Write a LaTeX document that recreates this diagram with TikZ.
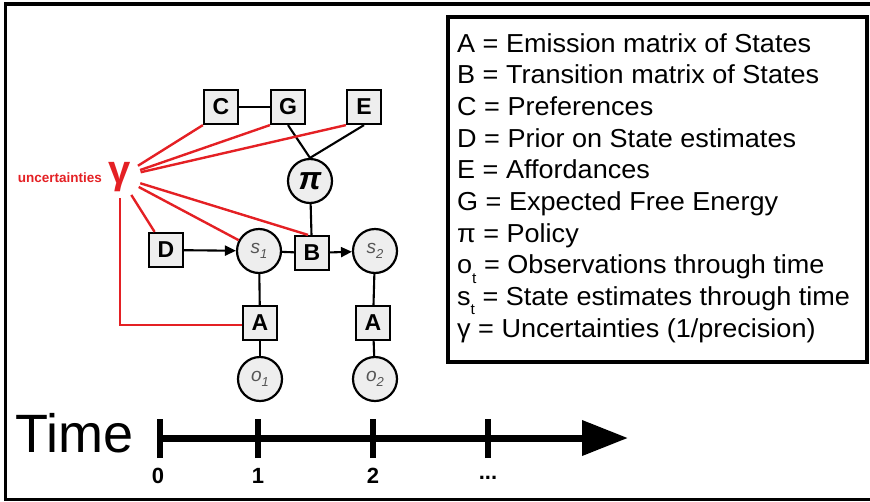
\documentclass[tikz,border=0pt]{standalone}
\usepackage{fontspec}
\setmainfont{Liberation Sans}
\newfontfamily\legendfont[FakeStretch=1.04]{Liberation Sans}
\usetikzlibrary{arrows.meta}

\definecolor{gred}{RGB}{228,32,36}
\definecolor{nodefill}{RGB}{238,238,238}
\definecolor{subgray}{RGB}{85,85,85}

\tikzset{
  mat/.style={draw, fill=nodefill, line width=2.2pt, minimum size=34pt, inner sep=0pt,
              font=\fontsize{23}{23}\selectfont\bfseries},
  var/.style={draw, circle, fill=nodefill, line width=2.2pt, minimum size=44pt, inner sep=0pt},
  link/.style={line width=2.1pt},
  flow/.style={line width=2.1pt, -{Triangle[length=11pt,width=10pt]}},
  prec/.style={gred, line width=2.4pt},
  legend/.style={anchor=base west, inner sep=0pt, font=\legendfont\fontsize{26}{26}\selectfont},
  axis/.style={line width=7pt, -{Triangle[length=46pt,width=34pt]}},
  tickmark/.style={line width=6.5pt},
  ticklabel/.style={font=\fontsize{22}{22}\selectfont\bfseries},
  frame/.style={line width=3.5pt},
}
% italic grey variable with a numeric index
\newcommand{\statevar}[2]{\textcolor{subgray}{\fontsize{19}{19}\selectfont\itshape #1\raisebox{-0.5ex}{\fontsize{13}{13}\selectfont #2}}}
% low subscript used in the legend
\newcommand{\lsub}[1]{\raisebox{-0.36em}{\fontsize{15}{15}\selectfont #1}}

\begin{document}
\begin{tikzpicture}[x=1pt, y=-1pt]
\useasboundingbox (0,0) rectangle (870,501);

% outer frame (open on the right)
\draw[frame] (870,4) -- (5.5,4) -- (5.5,499.5) -- (870,499.5);

% legend
\draw[line width=3.5pt] (448,17) rectangle (867,362);
\node[legend] (l1)  at (457,52.0)  {A = Emission matrix of States};
\node[legend] (l2)  at (457,83.7)  {B = Transition matrix of States};
\node[legend] (l3)  at (457,115.3) {C = Preferences};
\node[legend] (l4)  at (457,147.0) {D = Prior on State estimates};
\node[legend] (l5)  at (457,178.7) {E = Affordances};
\node[legend] (l6)  at (457,210.3) {G = Expected Free Energy};
\node[legend] (l7)  at (457,242.0) {π = Policy};
\node[legend] (l8)  at (457,273.7) {o\lsub{t} = Observations through time};
\node[legend] (l9)  at (457,305.3) {s\lsub{t} = State estimates through time};
\node[legend] (l10) at (457,337.0) {γ = Uncertainties (1/precision)};

% model nodes
\node[mat] (C)  at (221,107) {C};
\node[mat] (G)  at (288,107) {G};
\node[mat] (E)  at (364,107) {E};
\node[var] (pi) at (310,181) {\fontsize{32}{32}\selectfont\bfseries\itshape π};
\node[mat] (D)  at (166,250) {D};
\node[var] (s1) at (259,251) {\statevar{s}{1}};
\node[mat] (B)  at (312,253) {B};
\node[var] (s2) at (375,251) {\statevar{s}{2}};
\node[mat] (A1) at (260,323) {A};
\node[mat] (A2) at (373,323) {A};
\node[var] (o1) at (260,379) {\statevar{o}{1}};
\node[var] (o2) at (375,379) {\statevar{o}{2}};

% precision
\node[circle, minimum size=42pt, inner sep=0pt, text=gred,
      font=\fontsize{40}{40}\selectfont\bfseries] (gamma) at (120,177) {γ};
\node[anchor=east, inner sep=0pt, text=gred,
      font=\fontsize{13.5}{13.5}\selectfont\bfseries] (unc) at (102,178) {uncertainties};

% black dependencies
\draw[link] (C) -- (G);
\draw[link] (G.south) -- (pi.north);
\draw[link] (E.south) -- (pi.north);
\draw[link] (pi) -- (B);
\draw[flow] (D) -- (s1);
\draw[link] (s1) -- (B);
\draw[flow] (B) -- (s2);
\draw[link] (s1) -- (A1);
\draw[link] (A1) -- (o1);
\draw[link] (s2) -- (A2);
\draw[link] (A2) -- (o2);

% red precision links
\draw[prec] (gamma) -- (C.south west);
\draw[prec] (gamma) -- (G.south west);
\draw[prec] (gamma) -- (E.south west);
\draw[prec] (gamma) -- ([xshift=-4pt]B.north);
\draw[prec] (gamma) -- (s1);
\draw[prec] (gamma) -- (D);
\draw[prec] (gamma) |- ([yshift=-2pt]A1.west);

% time axis
\node[anchor=base west, inner sep=0pt, font=\fontsize{54}{54}\selectfont] (time) at (15,452) {Time};
\coordinate (t0) at (160,438);
\coordinate (t1) at (258,438);
\coordinate (t2) at (373,438);
\coordinate (t3) at (488,438);
\coordinate (tend) at (628,438);
\draw[axis] (t0) -- (tend);
\foreach \t in {t0,t1,t2,t3}
  \draw[tickmark] ([yshift=-20pt]\t) -- ([yshift=19pt]\t);
\node[ticklabel] (n0) at (158,476) {0};
\node[ticklabel] (n1) at (258,476) {1};
\node[ticklabel] (n2) at (373,476) {2};
\node[ticklabel] (n3) at (488,478) {...};
\end{tikzpicture}
\end{document}
